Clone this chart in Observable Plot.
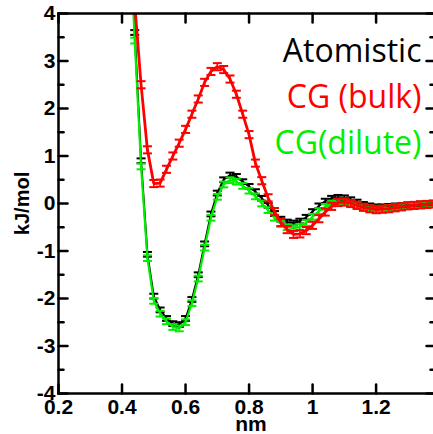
<!DOCTYPE html>
<html><head><meta charset="utf-8">
<script src="https://cdn.jsdelivr.net/npm/d3@7"></script>
<script src="https://cdn.jsdelivr.net/npm/@observablehq/plot@0.6"></script>
<style>html,body{margin:0;padding:0;background:#fff;overflow:hidden}</style>
</head><body><div id="chart"></div>
<script>
// ---- data (nm, kJ/mol) ----
const xAtomistic = [0.42,0.44,0.46,0.48,0.50,0.52,0.54,0.56,0.58,0.60,0.62,0.64,0.66,0.68,0.70,0.72,0.74,0.76,0.78,0.80,0.82,0.84,0.86,0.88,0.90,0.92,0.94,0.96,0.98,1.00,1.02,1.04,1.06,1.08,1.10,1.12,1.14,1.16,1.18,1.20,1.22,1.24,1.26,1.28,1.30,1.32,1.34,1.36,1.38];
const yAtomistic = [6.5,3.6,0.9,-1.07,-1.95,-2.24,-2.42,-2.53,-2.55,-2.42,-2.02,-1.5,-0.85,-0.22,0.22,0.5,0.6,0.57,0.46,0.36,0.25,0.11,-0.04,-0.21,-0.33,-0.39,-0.41,-0.37,-0.29,-0.17,-0.05,0.05,0.11,0.13,0.12,0.08,0.03,-0.02,-0.05,-0.07,-0.07,-0.06,-0.05,-0.04,-0.03,-0.02,-0.01,0.0,0.0];

const xBulk = [0.44,0.46,0.48,0.50,0.52,0.54,0.56,0.58,0.60,0.62,0.64,0.66,0.68,0.70,0.72,0.74,0.76,0.78,0.80,0.82,0.84,0.86,0.88,0.90,0.92,0.94,0.96,0.98,1.00,1.02,1.04,1.06,1.08,1.10,1.12,1.14,1.16,1.18,1.20,1.22,1.24,1.26,1.28,1.30,1.32,1.34,1.36,1.38];
const yBulk = [4.2,2.5,1.13,0.42,0.43,0.72,1.0,1.27,1.56,1.88,2.2,2.55,2.78,2.88,2.82,2.62,2.3,1.88,1.45,0.85,0.48,0.12,-0.17,-0.4,-0.55,-0.65,-0.64,-0.57,-0.46,-0.32,-0.18,-0.06,0.02,0.03,0.0,-0.04,-0.08,-0.11,-0.13,-0.12,-0.11,-0.09,-0.07,-0.05,-0.04,-0.03,-0.02,-0.01];

const xDilute = [0.42,0.44,0.46,0.48,0.50,0.52,0.54,0.56,0.58,0.60,0.62,0.64,0.66,0.68,0.70,0.72,0.74,0.76,0.78,0.80,0.82,0.84,0.86,0.88,0.90,0.92,0.94,0.96,0.98,1.00,1.02,1.04,1.06,1.08,1.10,1.12,1.14,1.16,1.18,1.20,1.22,1.24,1.26,1.28,1.30,1.32,1.34,1.36,1.38];
const yDilute = [6.3,3.43,0.78,-1.15,-2.05,-2.32,-2.48,-2.6,-2.63,-2.5,-2.1,-1.58,-0.93,-0.3,0.14,0.4,0.49,0.46,0.37,0.27,0.15,0.0,-0.14,-0.3,-0.43,-0.5,-0.52,-0.49,-0.41,-0.28,-0.16,-0.07,0.0,0.04,0.04,0.01,-0.03,-0.07,-0.1,-0.11,-0.11,-0.09,-0.08,-0.06,-0.05,-0.04,-0.03,-0.02,-0.01];

const errAtomistic = 0.05, errBulk = 0.075, errDilute = 0.06;

const legendLabels = ["Atomistic", "CG (bulk)", "CG(dilute)"];
const seriesColors = ["#000000", "#ff0000", "#00ee00"];

const xDomain = [0.2, 1.387];
const yDomain = [-4, 4];
const xTicks = [0.2, 0.4, 0.6, 0.8, 1, 1.2];
const xTickLabels = ["0.2", "0.4", "0.6", "0.8", "1", "1.2"];
const yTicks = [-4, -3, -2, -1, 0, 1, 2, 3, 4];
const yTickLabels = ["-4", "-3", "-2", "-1", "0", "1", "2", "3", "4"];
const yMinorTicks = [-3.5, -2.5, -1.5, -0.5, 0.5, 1.5, 2.5, 3.5];
const xLabel = "nm";
const yLabel = "kJ/mol";

// ---- helpers ----
const toRows = (xs, ys) => xs.map((x, i) => ({x, y: ys[i]}));
const capSymbol = {
  draw(ctx, size) {
    const r = Math.sqrt(size / Math.PI);
    ctx.moveTo(-r, 0); ctx.lineTo(r, 0);
  }
};
// plain straight vector shape (no arrow head) for inward ticks
const tickShape = { draw(ctx, l) { ctx.moveTo(0, 0); ctx.lineTo(0, -l); } };

function seriesMarks(rows, err, color, lineWidth) {
  return [
    Plot.line(rows, {x: "x", y: "y", stroke: color, strokeWidth: lineWidth, clip: true}),
    Plot.ruleX(rows, {x: "x", y1: d => d.y - err, y2: d => d.y + err, stroke: color, strokeWidth: 1.6, clip: true}),
    Plot.dot(rows, {x: "x", y: d => d.y + err, symbol: capSymbol, r: 4.5, stroke: color, strokeWidth: 2, fill: "none", clip: true}),
    Plot.dot(rows, {x: "x", y: d => d.y - err, symbol: capSymbol, r: 4.5, stroke: color, strokeWidth: 2, fill: "none", clip: true})
  ];
}
function tickMarks(values, axis, side, len) {
  const rotate = {bottom: 0, left: 90, top: 180, right: 270}[side];
  const opts = {length: len, rotate, anchor: "start", shape: tickShape, stroke: "#000", strokeWidth: 2.5};
  if (axis === "x") return Plot.vector(values, {...opts, x: d => d, y: () => side === "top" ? yDomain[1] : yDomain[0]});
  return Plot.vector(values, {...opts, y: d => d, x: () => side === "left" ? xDomain[0] : xDomain[1]});
}

const atom = toRows(xAtomistic, yAtomistic);
const bulk = toRows(xBulk, yBulk);
const dilute = toRows(xDilute, yDilute);

const tickFont = {fontSize: 21, fontWeight: "bold", fill: "#000"};

const chart = Plot.plot({
  width: 433,
  height: 434,
  marginLeft: 58,
  marginRight: -2,
  marginTop: 13,
  marginBottom: 41,
  style: {fontFamily: "'Liberation Sans', Arial, sans-serif", background: "#fff", color: "#000"},
  x: {domain: xDomain},
  y: {domain: yDomain},
  marks: [
    // tick labels
    Plot.axisX(xTicks, {anchor: "bottom", tickSize: 0, tickPadding: 6, label: null, tickFormat: d => xTickLabels[xTicks.indexOf(d)], ...tickFont}),
    Plot.axisY(yTicks, {anchor: "left", tickSize: 0, tickPadding: 3, label: null, tickFormat: d => yTickLabels[yTicks.indexOf(d)], ...tickFont}),
    // inward ticks
    tickMarks(xTicks, "x", "bottom", 9),
    tickMarks(xTicks, "x", "top", 9),
    tickMarks(yTicks, "y", "left", 9),
    tickMarks(yMinorTicks, "y", "left", 5),
    tickMarks(yTicks, "y", "right", 9),
    tickMarks(yMinorTicks, "y", "right", 5),
    // axis titles
    Plot.text([yLabel], {frameAnchor: "left", dx: -36, rotate: -90, lineAnchor: "middle", fontSize: 20, fontWeight: "bold", fill: "#000", textAnchor: "middle"}),
    Plot.text([xLabel], {frameAnchor: "bottom", dx: 4, dy: 31, lineAnchor: "middle", fontSize: 21, fontWeight: "bold", fill: "#000"}),
    // series
    ...seriesMarks(atom, errAtomistic, seriesColors[0], 2),
    ...seriesMarks(dilute, errDilute, seriesColors[2], 2.2),
    ...seriesMarks(bulk, errBulk, seriesColors[1], 2.8),
    // legend
    ...legendLabels.map((t, i) => Plot.text([t], {frameAnchor: "top-right", dx: -14, dy: 38 + i * 46, textAnchor: "end", lineAnchor: "middle", fill: seriesColors[i], fontSize: 32, fontFamily: "'Open Sans', sans-serif"})),
    Plot.frame({stroke: "#000", strokeWidth: 2.5})
  ]
});
document.getElementById("chart").appendChild(chart);
</script>
</body></html>
